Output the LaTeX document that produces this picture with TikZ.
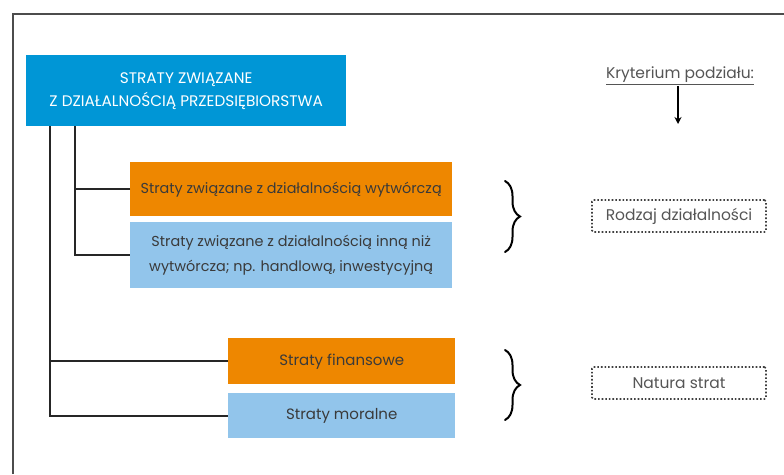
\documentclass[tikz,border=0pt]{standalone}
\usepackage{fontspec}
\setmainfont{Poppins}
\usetikzlibrary{decorations.pathreplacing,arrows.meta}
\definecolor{headblue}{HTML}{0096D6}
\definecolor{boxorange}{HTML}{EE8700}
\definecolor{boxlight}{HTML}{92C5EB}
\definecolor{inktext}{HTML}{3A3A3A}
\definecolor{greytext}{HTML}{555555}
\tikzset{
  frameline/.style={draw=black!70, line width=1.3pt},
  conn/.style={draw=black!85, line width=1.8pt},
  boxbase/.style={anchor=north west, inner sep=0pt, align=center, text=inktext},
  orangebox/.style={boxbase, fill=boxorange},
  lightbox/.style={boxbase, fill=boxlight},
  upperfont/.style={font=\fontsize{14.4}{25}\selectfont},
  lowerfont/.style={font=\fontsize{15}{18}\selectfont},
  headbox/.style={anchor=north west, inner sep=0pt, align=center, fill=headblue, text=white, font=\fontsize{15.3}{23}\selectfont},
  critbox/.style={draw=black!75, dotted, line width=1.6pt, rounded corners=1.5pt, minimum width=174pt, minimum height=32pt, inner sep=0pt, text=greytext, font=\fontsize{15.5}{18}\selectfont},
  bracestyle/.style={draw=black, line width=2pt, line cap=round, decorate, decoration={brace, amplitude=15pt}},
}
\begin{document}
\begin{tikzpicture}[x=1pt, y=-1pt]
  \useasboundingbox (0,0) rectangle (784,474);
  % outer frame (left and top edges)
  \coordinate (fbl) at (13,474);
  \coordinate (ftr) at (784,14);
  \draw[frameline] (fbl) |- (ftr);

  % boxes
  \node[headbox, minimum width=320pt, minimum height=71pt] (top) at (26,55)
    {STRATY ZWIĄZANE\\Z DZIAŁALNOŚCIĄ PRZEDSIĘBIORSTWA};
  \node[orangebox, upperfont, minimum width=322pt, minimum height=54pt] (A) at (130,162)
    {Straty związane z działalnością wytwórczą};
  \node[lightbox, upperfont, minimum width=322pt, minimum height=66pt] (B) at (130,222)
    {Straty związane z działalnością inną niż\\wytwórcza; np. handlową, inwestycyjną};
  \node[orangebox, lowerfont, minimum width=227pt, minimum height=46pt] (C) at (228,338)
    {Straty finansowe};
  \node[lightbox, lowerfont, minimum width=227pt, minimum height=45pt] (D) at (228,393)
    {Straty moralne};

  % tree connectors
  \coordinate (t1) at (50,126);
  \coordinate (t2) at (75,126);
  \draw[conn] (t1) |- (D.west);
  \draw[conn] (C.west) -- (C.west -| t1);
  \draw[conn] (t2) |- (B.west);
  \draw[conn] (A.west) -- (A.west -| t2);

  % braces
  \coordinate (b1t) at (505,181);
  \coordinate (b1b) at (505,252);
  \coordinate (b2t) at (505,350);
  \coordinate (b2b) at (505,420);
  \draw[bracestyle] (b1t) -- (b1b);
  \draw[bracestyle] (b2t) -- (b2b);

  % criteria
  \node[inner sep=1pt, text=greytext, font=\fontsize{15.5}{18}\selectfont] (kr) at (680,76) {\underline{Kryterium podziału:}};
  \coordinate (arrowend) at (678,124);
  \draw[line width=1.5pt, -{Stealth[length=7pt,width=7pt]}] (kr.south -| arrowend) -- (arrowend);
  \node[critbox] (rodzaj) at (679,216) {Rodzaj działalności};
  \node[critbox] (natura) at (679,383) {Natura strat};
\end{tikzpicture}
\end{document}
